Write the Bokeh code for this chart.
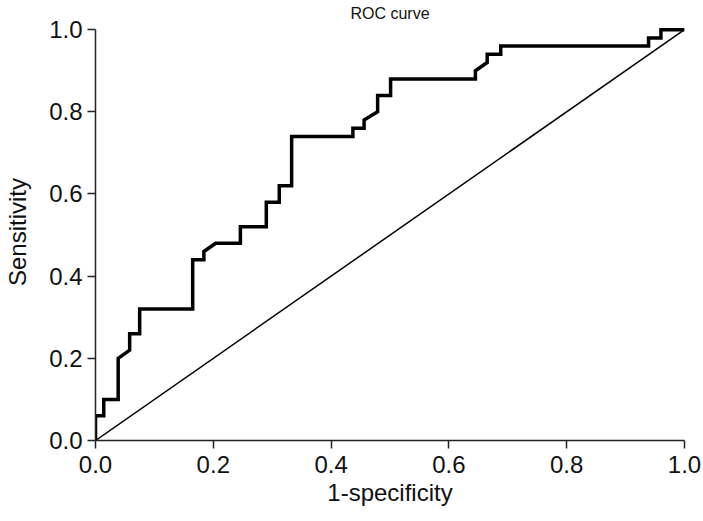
from bokeh.plotting import figure
from bokeh.models import Range1d, FixedTicker
from bokeh.embed import file_html
from bokeh.resources import INLINE

# ROC curve points (1-specificity, sensitivity)
fpr = [0.0, 0.0, 0.014, 0.014, 0.0385, 0.0385, 0.058, 0.058, 0.075, 0.075,
       0.165, 0.165, 0.184, 0.184, 0.204, 0.246, 0.246, 0.290, 0.290, 0.312,
       0.312, 0.333, 0.333, 0.437, 0.437, 0.456, 0.456, 0.479, 0.479, 0.501,
       0.501, 0.645, 0.645, 0.665, 0.665, 0.688, 0.688, 0.939, 0.939, 0.960,
       0.960, 1.0]
tpr = [0.0, 0.06, 0.06, 0.10, 0.10, 0.20, 0.22, 0.26, 0.26, 0.32,
       0.32, 0.44, 0.44, 0.46, 0.48, 0.48, 0.52, 0.52, 0.58, 0.58,
       0.62, 0.62, 0.74, 0.74, 0.76, 0.76, 0.78, 0.80, 0.84, 0.84,
       0.88, 0.88, 0.90, 0.92, 0.94, 0.94, 0.96, 0.96, 0.98, 0.98,
       1.0, 1.0]
ref_x = [0.0, 1.0]
ref_y = [0.0, 1.0]
ticks = [0.0, 0.2, 0.4, 0.6, 0.8, 1.0]
tick_labels = ["0.0", "0.2", "0.4", "0.6", "0.8", "1.0"]

FONT = "Liberation Sans"

p = figure(width=701, height=516, output_backend="svg", toolbar_location=None,
           x_range=Range1d(0, 1.0), y_range=Range1d(0, 1.015),
           min_border_left=95, min_border_right=17, min_border_top=23,
           min_border_bottom=76, title="ROC curve")
p.outline_line_color = None
p.grid.visible = False
p.background_fill_color = "white"
p.border_fill_color = "white"

p.title.align = "center"
p.title.text_font = FONT
p.title.text_font_size = "16px"
p.title.text_font_style = "normal"
p.title.text_color = "#111111"
p.title.standoff = 3
p.title.offset = 0

p.line(ref_x, ref_y, line_color="black", line_width=1.5)
p.line(fpr, tpr, line_color="black", line_width=3.5, line_join="miter")

for ax in (p.xaxis[0], p.yaxis[0]):
    ax.ticker = FixedTicker(ticks=ticks)
    ax.major_label_overrides = {t: l for t, l in zip(ticks, tick_labels)}
    ax.bounds = (0, 1)
    ax.axis_line_color = "#222222"
    ax.axis_line_width = 1.5
    ax.major_tick_line_color = "#222222"
    ax.major_tick_line_width = 1.5
    ax.major_tick_out = 8
    ax.major_tick_in = 0
    ax.minor_tick_line_color = None
    ax.major_label_text_font = FONT
    ax.major_label_text_font_size = "24px"
    ax.major_label_text_color = "#111111"
    ax.axis_label_text_font = FONT
    ax.axis_label_text_font_size = "24px"
    ax.axis_label_text_font_style = "normal"
    ax.axis_label_text_color = "#111111"

p.xaxis.axis_label = "1-specificity"
p.yaxis.axis_label = "Sensitivity"
p.xaxis.major_label_standoff = 7
p.xaxis.axis_label_standoff = 3
p.yaxis.major_label_standoff = 5
p.yaxis.axis_label_standoff = 15

open("out.html", "w").write(file_html(p, INLINE))
